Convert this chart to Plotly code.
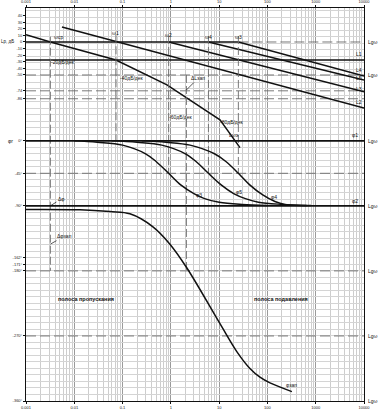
import numpy as np
import plotly.graph_objects as go

# ---------------- data ----------------
freq_ticks = [0.001, 0.01, 0.1, 1, 10, 100, 1000, 10000]
freq_tick_labels = ["0.001", "0.01", "0.1", "1", "10", "100", "1000", "10000"]
db_ticks = [40, 30, 20, 10, 0, -10, -20, -30, -40, -50, -74, -86]
db_tick_labels = ["40", "30", "20", "10", "0", "-10", "-20", "-30", "-40", "-50", "-74", "-86"]
phase_ticks = [0, -45, -90, -162, -171, -180, -270, -360]
phase_tick_labels = ["0°", "-45°", "-90°", "-162°", "-171°", "-180°", "-270°", "-360°"]

# characteristic frequencies
w_cp, w1, w2, w4, w3, w_gm = 0.0032, 0.073, 0.9, 6.0, 25.0, 2.1

# amplitude (dB) lines
L_main_f = [0.001, 0.0032, 0.073, 0.83, 10.4, 27]
L_main_db = [11.1, 0, -27.3, -65, -118, -160]
L2_f = [0.00556, 10000]
L2_db = [22.7, -100]
L1_f = [0.001, 10000]
L1_db = [-27.3, -27.3]
L3_f = [0.9, 10000]
L3_db = [0, -75.3]
L5_f = [6.0, 10000]
L5_db = [0, -57.6]
L4_f = [25.0, 10000]
L4_db = [0, -51.5]
db_dashed_levels = [-50, -74, -86]

# phase curves (deg)
ph3_f = [0.01, 0.03, 0.1, 0.3, 0.5, 0.9, 1.6, 3, 5, 10, 30, 100]
ph3_v = [0, -2, -6, -18, -29, -45, -61, -73, -80, -85, -88, -89.5]
ph5_f = [0.06, 0.2, 0.65, 2, 3.5, 6, 11, 20, 35, 65, 200, 650]
ph5_v = [0, -2, -6, -18, -30, -45, -61, -73, -80, -85, -88, -89.5]
ph4_f = [0.25, 0.8, 2.5, 8, 14, 25, 43, 80, 143, 230, 800]
ph4_v = [0, -2, -6, -18, -29, -45, -61, -75, -84, -88, -89.5]
phtot_f = [0.001, 0.0131, 0.0548, 0.142, 0.426, 0.957, 2.15, 10.4, 23.4, 43.4, 70, 113, 321]
phtot_v = [-95, -95.5, -98, -101, -119, -143, -176, -253, -292, -315, -327, -335, -347]
ph_dashed_levels = [-45, -180, -270]

DB_RANGE = [-544, 51.5]
PH_RANGE = [-360, 183.7]


def db2ph(v):
    return PH_RANGE[0] + (v - DB_RANGE[0]) * (PH_RANGE[1] - PH_RANGE[0]) / (DB_RANGE[1] - DB_RANGE[0])


BLACK = "#111111"
DASH_C = "#6a6a6a"
DASH = "10px,4px"

fig = go.Figure()


def line(xs, ys, yaxis="y", width=1.4, color=BLACK, dash="solid", shape="linear"):
    fig.add_trace(go.Scatter(x=xs, y=ys, mode="lines", yaxis=yaxis, hoverinfo="skip",
                             line=dict(color=color, width=width, dash=dash, shape=shape),
                             showlegend=False))


# invisible helper traces to activate overlay axes
fig.add_trace(go.Scatter(x=[1], y=[0], xaxis="x2", yaxis="y", mode="markers",
                         marker=dict(opacity=0), hoverinfo="skip", showlegend=False))
fig.add_trace(go.Scatter(x=[1], y=[0], xaxis="x", yaxis="y3", mode="markers",
                         marker=dict(opacity=0), hoverinfo="skip", showlegend=False))

# dashed reference levels
for lv in db_dashed_levels:
    line([0.001, 10000], [lv, lv], width=0.9, color=DASH_C, dash=DASH)
for lv in ph_dashed_levels:
    line([0.001, 10000], [lv, lv], yaxis="y2", width=0.9, color=DASH_C, dash=DASH)
line([w3, 10000], [0, 0], width=0.9, color=DASH_C, dash=DASH)

# vertical marker lines
line([w_cp, w_cp], [144, -180], yaxis="y2", width=0.9, color=DASH_C, dash="8px,3px")
line([w1, w1], [146, 0], yaxis="y2", width=0.9, color=DASH_C, dash="8px,3px")
for w in (w2, w4, w3):
    line([w, w], [145, -45], yaxis="y2", width=0.9, color=DASH_C, dash="8px,3px")
line([w_gm, w_gm], [db2ph(-50), -180], yaxis="y2", width=0.9, color=DASH_C, dash="8px,3px")

# amplitude lines
line([0.001, w3], [0, 0], width=1.7)
line(L1_f, L1_db, width=1.7)
line(L_main_f, L_main_db, width=1.5)
line(L2_f, L2_db, width=1.5)
line(L3_f, L3_db, width=1.5)
line(L5_f, L5_db, width=1.5)
line(L4_f, L4_db, width=1.5)

# phase lines
line([0.001, 10000], [0, 0], yaxis="y2", width=1.7)
line([0.001, 10000], [-90, -90], yaxis="y2", width=1.7)
line(ph3_f, ph3_v, yaxis="y2", width=1.5, shape="spline")
line(ph5_f, ph5_v, yaxis="y2", width=1.5, shape="spline")
line(ph4_f, ph4_v, yaxis="y2", width=1.5, shape="spline")
line(phtot_f, phtot_v, yaxis="y2", width=1.5, shape="spline")

FONT = "Liberation Sans"
anns = []


def txt(text, f, y, yref="y", size=5, xanchor="center", bold=False, **kw):
    anns.append(dict(text=("<b>%s</b>" % text) if bold else text, x=np.log10(f), y=y,
                     xref="x", yref=yref, showarrow=False, xanchor=xanchor,
                     font=dict(family=FONT, size=size, color=BLACK), **kw))


def leader(text, f, y, ax, ay, yref="y"):
    anns.append(dict(text=text, x=np.log10(f), y=y, xref="x", yref=yref, showarrow=True,
                     arrowhead=0, arrowwidth=0.7, arrowcolor=BLACK, ax=ax, ay=ay,
                     font=dict(family=FONT, size=5, color=BLACK)))


txt("ωср", 0.0048, 7.6)
txt("ω1", w1, 13.6)
txt("ω2", w2, 10.6)
txt("ω4", w4, 7.6)
txt("ω3", w3, 7.6)
txt("-20дБ/дек", 0.0058, -30.3)
txt("-40дБ/дек", 0.157, -54.5)
txt("-60дБ/дек", 1.62, -113.6)
txt("-80дБ/дек", 18.4, -121)
txt("Lωэ", 20.2, -141)
leader("ΔLзап", w_gm, -72.7, 12, -12)

for lab, yv in (("L1", -18.2), ("L4", -42.4), ("L5", -54.5), ("L3", -71.2), ("L2", -90.9)):
    txt(lab, 7800, yv, size=5)
txt("φ1", 6500, 7.9, yref="y2")
txt("φ2", 6500, -83.5, yref="y2")
txt("φ3", 3.8, -75.2, yref="y2")
txt("φ5", 25.7, -71, yref="y2")
txt("φ4", 136, -78, yref="y2")
leader("Δφ", w_cp, -90, 11, -7, yref="y2")
leader("Δφзап", w_cp, -143, 14, -8, yref="y2")
txt("φзап", 321, -338, yref="y2")
txt("полоса пропускания", 0.0175, -219, yref="y2", size=5.5, bold=True)
txt("полоса подавления", 190, -219, yref="y2", size=5.5, bold=True)

for yv, yref in ((0, "y"), (-50, "y"), (0, "y2"), (-90, "y2"), (-180, "y2"), (-270, "y2"), (-360, "y2")):
    anns.append(dict(text="Lgω", x=1.006, xref="paper", y=yv, yref=yref, showarrow=False,
                     xanchor="left", font=dict(family=FONT, size=5, color=BLACK)))
anns.append(dict(text="Lp, дБ", x=-0.03, xref="paper", y=0, yref="y", showarrow=False,
                 xanchor="right", font=dict(family=FONT, size=4.5, color=BLACK)))
anns.append(dict(text="φr", x=-0.033, xref="paper", y=0, yref="y2", showarrow=False,
                 xanchor="right", font=dict(family=FONT, size=5, color=BLACK)))

minor_vals = [d * 10.0 ** k for k in range(-3, 4) for d in range(2, 10)]
tickfont = dict(family=FONT, size=4, color="#222222")

fig.update_layout(
    width=381, height=410,
    margin=dict(l=26, r=17, t=8, b=9, autoexpand=False),
    paper_bgcolor="white", plot_bgcolor="white",
    showlegend=False,
    annotations=anns,
    xaxis=dict(type="log", range=[-3, 4], tickvals=freq_ticks, ticktext=freq_tick_labels,
               tickfont=tickfont, ticks="outside", ticklen=2, tickcolor=BLACK, automargin=False,
               showgrid=True, gridcolor="#9a9a9a", gridwidth=0.9,
               minor=dict(tickvals=minor_vals, showgrid=True, gridcolor="#cdcdcd", gridwidth=0.7, ticks=""),
               showline=True, linecolor=BLACK, linewidth=1, mirror=True, zeroline=False),
    xaxis2=dict(type="log", range=[-3, 4], overlaying="x", side="top", tickvals=freq_ticks,
                ticktext=freq_tick_labels, tickfont=tickfont, ticks="outside", ticklen=2,
                automargin=False,
                tickcolor=BLACK, showgrid=False, zeroline=False, showline=False),
    yaxis=dict(range=DB_RANGE, tickvals=db_ticks, ticktext=db_tick_labels, tickfont=tickfont,
               ticks="outside", ticklen=2, tickcolor=BLACK, showgrid=False, zeroline=False,
               automargin=False,
               showline=True, linecolor=BLACK, linewidth=1, mirror=True),
    yaxis2=dict(range=PH_RANGE, overlaying="y", side="left", tickvals=phase_ticks,
                ticktext=phase_tick_labels, tickfont=tickfont, ticks="outside", ticklen=2,
                automargin=False,
                tickcolor=BLACK, showgrid=False, zeroline=False, showline=False),
    yaxis3=dict(range=PH_RANGE, overlaying="y", side="left", tick0=0, dtick=9,
                showticklabels=False, ticks="", showgrid=True, gridcolor="#d4d4d4",
                automargin=False,
                gridwidth=0.7, zeroline=False, showline=False),
)

fig.write_html("out.html", config={"displayModeBar": False},
               post_script="document.body.style.margin='0';")
